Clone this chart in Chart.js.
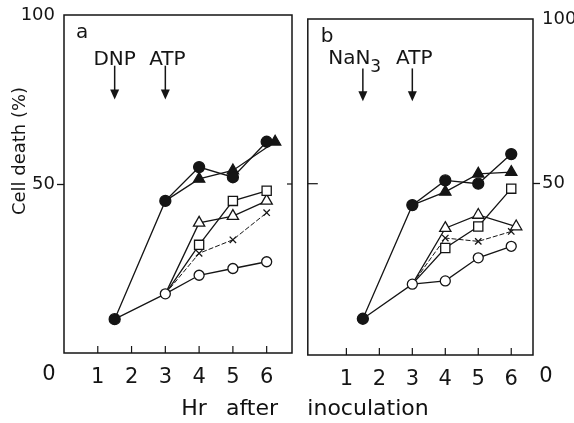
<!DOCTYPE html>
<html>
<head>
<meta charset="utf-8">
<script src="https://cdn.jsdelivr.net/npm/chart.js@4.4.1/dist/chart.umd.min.js"></script>
<style>
    body { margin: 0; background: #fff; width: 574px; height: 423px; position: relative; overflow: hidden; font-family: "DejaVu Sans", sans-serif; }
    canvas { position: absolute; top: 0; }
    #panelA { left: 0; }
    #panelB { left: 300px; }
    .xtitle { position: absolute; top: 397px; font-size: 22px; line-height: 1; color: #111; transform: translateX(-50%); white-space: nowrap; }
</style>
</head>
<body>
<canvas id="panelA" width="300" height="423"></canvas>
<canvas id="panelB" width="274" height="423"></canvas>
<div class="xtitle" style="left:194px">Hr</div>
<div class="xtitle" style="left:252px">after</div>
<div class="xtitle" style="left:368px">inoculation</div>
<script>
const xTicks = [1, 2, 3, 4, 5, 6];
const yTicks = [50, 100];
const arrowHours = [1.5, 3];

// panel a - DNP then ATP
const aDarkCircleX = [1.5, 3, 4, 5, 6];
const aDarkCircleY = [10, 45, 55, 52, 62.5];
const aDarkTriX = [3, 4, 5, 6.25];
const aDarkTriY = [45, 51.5, 54, 62.5];
const aOpenCircleX = [1.5, 3, 4, 5, 6];
const aOpenCircleY = [10, 17.5, 23, 25, 27];
const aSquareX = [3, 4, 5, 6];
const aSquareY = [17.5, 32, 45, 48];
const aOpenTriX = [3, 4, 5, 6];
const aOpenTriY = [17.5, 38.5, 40.5, 45];
const aCrossX = [3, 4, 5, 6];
const aCrossY = [17.5, 29.5, 33.5, 41.5];

// panel b - NaN3 then ATP
const bDarkCircleX = [1.5, 3, 4, 5, 6];
const bDarkCircleY = [9, 43.5, 51, 50, 59];
const bDarkTriX = [3, 4, 5, 6];
const bDarkTriY = [43.5, 47.5, 53, 53.5];
const bOpenCircleX = [1.5, 3, 4, 5, 6];
const bOpenCircleY = [9, 19.5, 20.5, 27.5, 31];
const bSquareX = [3, 4, 5, 6];
const bSquareY = [19.5, 30.5, 37, 48.5];
const bOpenTriX = [3, 4, 5, 6.15];
const bOpenTriY = [19.5, 36.5, 40.5, 37];
const bCrossX = [3, 4, 5, 6];
const bCrossY = [19.5, 33.5, 32.5, 35.5];

const INK = '#151515';
const FONT = '"DejaVu Sans", sans-serif';

// first point of a series sits under another marker, so hide it
const skipFirst = (r) => (c) => c.dataIndex === 0 ? 0 : r;

function series(xs, ys, style) {
    return Object.assign({
        data: xs.map((x, i) => ({ x: x, y: ys[i] })),
        borderColor: INK,
        borderWidth: 1.3,
        pointBorderColor: INK,
        pointBorderWidth: 1.3,
        tension: 0
    }, style);
}

function makeSets(dc, dt, oc, sq, ot, cr) {
    return [
        series(dc[0], dc[1], { pointStyle: 'circle', pointRadius: 5.5, pointBackgroundColor: INK }),
        series(dt[0], dt[1], { pointStyle: 'triangle', pointRadius: skipFirst(6.5), pointBackgroundColor: INK }),
        series(oc[0], oc[1], { pointStyle: 'circle', pointRadius: skipFirst(5), pointBackgroundColor: '#fff' }),
        series(sq[0], sq[1], { pointStyle: 'rect', pointRadius: skipFirst(6.5), pointBackgroundColor: '#fff' }),
        series(ot[0], ot[1], { pointStyle: 'triangle', pointRadius: skipFirst(6.5), pointBackgroundColor: '#fff' }),
        series(cr[0], cr[1], { pointStyle: 'crossRot', pointRadius: skipFirst(4.5), borderDash: [5, 2], borderWidth: 1 })
    ];
}

function line(ctx, x0, y0, x1, y1) {
    ctx.beginPath();
    ctx.moveTo(x0, y0);
    ctx.lineTo(x1, y1);
    ctx.stroke();
}

// frame, inner ticks, arrows and the small labels
function decor(cfg) {
    return {
        id: 'decor',
        afterDraw(chart) {
            const ctx = chart.ctx;
            const a = chart.chartArea;
            const x = chart.scales.x;
            const y = chart.scales.y;
            ctx.save();
            ctx.strokeStyle = INK;
            ctx.fillStyle = INK;
            ctx.lineWidth = 1.5;
            ctx.strokeRect(a.left, a.top, a.right - a.left, a.bottom - a.top);

            ctx.lineWidth = 1.2;
            xTicks.forEach(v => {
                const px = x.getPixelForValue(v);
                line(ctx, px, a.bottom, px, a.bottom - 7);
            });
            const p50 = y.getPixelForValue(50);
            if (cfg.innerLeft) line(ctx, a.left, p50, a.left + cfg.innerLeft, p50);
            if (cfg.innerRight) line(ctx, a.right, p50, a.right - cfg.innerRight, p50);

            // arrows
            ctx.lineWidth = 1.5;
            const top = y.getPixelForValue(85);
            const bottom = y.getPixelForValue(75);
            arrowHours.forEach(h => {
                const px = x.getPixelForValue(h);
                line(ctx, px, top, px, bottom - 8);
                ctx.beginPath();
                ctx.moveTo(px - 4.5, bottom - 10);
                ctx.lineTo(px + 4.5, bottom - 10);
                ctx.lineTo(px, bottom);
                ctx.closePath();
                ctx.fill();
            });

            ctx.font = '20px ' + FONT;
            ctx.textBaseline = 'alphabetic';
            ctx.textAlign = 'left';
            ctx.fillText(cfg.letter, a.left + cfg.letterDx, a.top + 23);

            const px0 = x.getPixelForValue(arrowHours[0]);
            const px1 = x.getPixelForValue(arrowHours[1]);
            if (cfg.sub) {
                const wNa = ctx.measureText('Na').width;
                const wN = ctx.measureText('N').width;
                const start = px0 - wNa - wN / 2;
                ctx.fillText('NaN', start, top - 4);
                ctx.font = '17px ' + FONT;
                ctx.fillText(cfg.sub, start + wNa + wN, top + 4);
                ctx.font = '20px ' + FONT;
            } else {
                ctx.textAlign = 'center';
                ctx.fillText(cfg.first, px0, top - 1);
            }
            ctx.textAlign = 'center';
            ctx.fillText('ATP', px1 + 2, top - (cfg.sub ? 4 : 1));

            // zero of the y axis, set on the hour label row
            ctx.font = '21px ' + FONT;
            ctx.textBaseline = 'middle';
            ctx.fillText('0', cfg.zeroX, cfg.zeroY);

            if (cfg.ytitle) {
                ctx.translate(20, 151);
                ctx.rotate(-Math.PI / 2);
                ctx.font = '18px ' + FONT;
                ctx.fillText(cfg.ytitle, 0, 0);
            }
            ctx.restore();
        }
    };
}

function options(xMin, xMax, yMin, yPos, pad) {
    return {
        responsive: false,
        animation: false,
        events: [],
        layout: { padding: pad },
        plugins: { legend: { display: false }, tooltip: { enabled: false } },
        scales: {
            x: {
                type: 'linear', min: xMin, max: xMax,
                afterBuildTicks: s => { s.ticks = xTicks.map(v => ({ value: v })); },
                afterFit: s => { s.height = 40; },
                grid: { display: false, drawTicks: false },
                border: { display: false },
                ticks: { padding: 12, color: INK, font: { family: FONT, size: 21 } }
            },
            y: {
                position: yPos, min: yMin, max: 100,
                afterBuildTicks: s => { s.ticks = yTicks.map(v => ({ value: v })); },
                afterFit: s => { s.width = yPos === 'left' ? 64 : 41; },
                grid: { drawOnChartArea: false, tickLength: 7, tickWidth: 1.3, tickColor: c => c.tick && c.tick.value === 50 ? INK : 'rgba(0,0,0,0)' },
                border: { display: false },
                ticks: { padding: 2, color: INK, font: { family: FONT, size: 18 } }
            }
        }
    };
}

new Chart(document.getElementById('panelA'), {
    type: 'line',
    data: {
        datasets: makeSets([aDarkCircleX, aDarkCircleY], [aDarkTriX, aDarkTriY], [aOpenCircleX, aOpenCircleY],
            [aSquareX, aSquareY], [aOpenTriX, aOpenTriY], [aCrossX, aCrossY])
    },
    options: options(0, 6.75, 0, 'left', { left: 0, right: 8, top: 15, bottom: 30 }),
    plugins: [decor({ letter: 'a', letterDx: 12, first: 'DNP', innerRight: 5, zeroX: 49, zeroY: 375, ytitle: 'Cell death (%)' })]
});

new Chart(document.getElementById('panelB'), {
    type: 'line',
    data: {
        datasets: makeSets([bDarkCircleX, bDarkCircleY], [bDarkTriX, bDarkTriY], [bOpenCircleX, bOpenCircleY],
            [bSquareX, bSquareY], [bOpenTriX, bOpenTriY], [bCrossX, bCrossY])
    },
    options: options(-0.17, 6.66, -2, 'right', { left: 6, right: 0, top: 19, bottom: 28 }),
    plugins: [decor({ letter: 'b', letterDx: 13, sub: '3', innerLeft: 10, zeroX: 246, zeroY: 377 })]
});
</script>
</body>
</html>
